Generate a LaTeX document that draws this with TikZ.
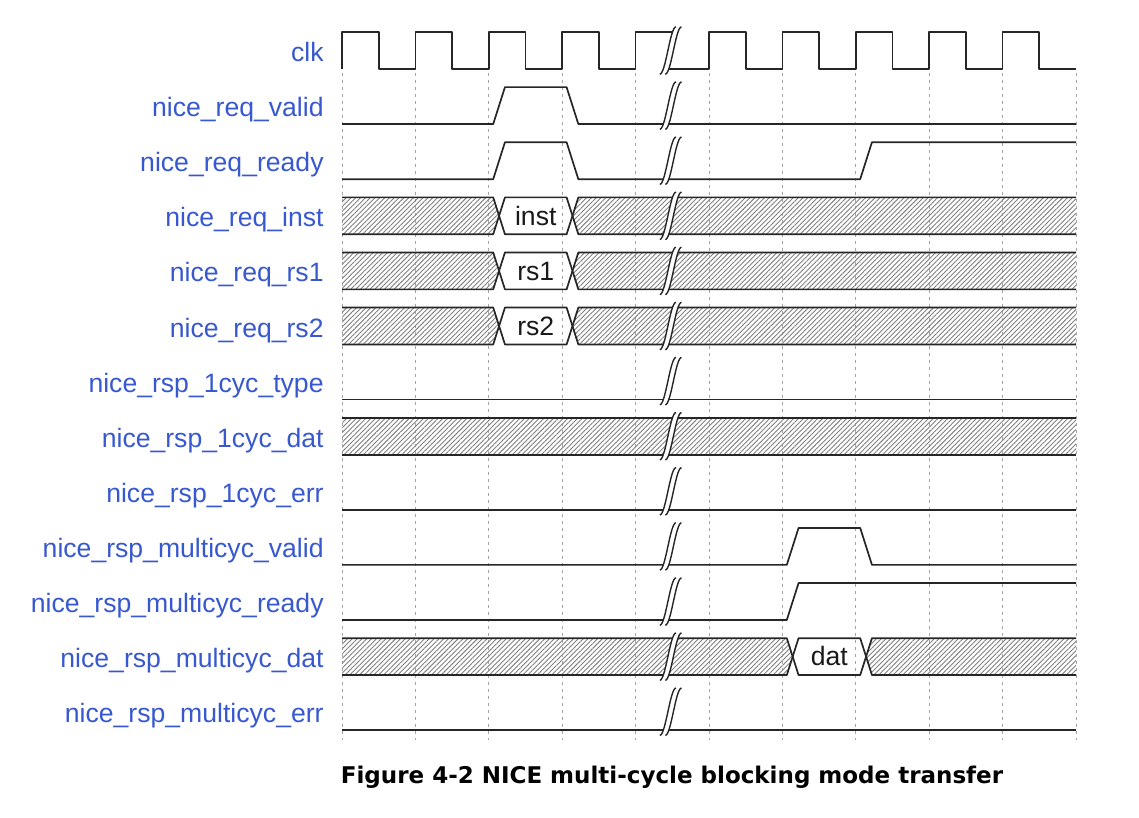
\documentclass[tikz,border=0pt]{standalone}
\usepackage{fontspec}
\setmainfont{Liberation Sans}
\newfontfamily\capfont{DejaVu Sans}
\usetikzlibrary{patterns.meta}
\definecolor{sigblue}{RGB}{56,88,208}
\newcommand{\amp}{0.335}
\begin{document}
\begin{tikzpicture}[x=36.7pt,y=-27.55pt,
    sig/.style={line width=0.85pt,black!85,line join=round},
    hatch/.style={pattern={Lines[angle=45,distance=1.7pt,line width=0.45pt]},pattern color=black!50},
    gridline/.style={black!35,line width=0.5pt,dash pattern=on 1.5pt off 2pt},
    brk/.style={line width=0.7pt,black!85},
    lbl/.style={anchor=base east,inner sep=0pt,text=sigblue,font=\fontsize{13.3}{16}\selectfont},
    bustext/.style={anchor=base,inner sep=0pt,text=black!90,font=\fontsize{13.3}{16}\selectfont}]
    \useasboundingbox (-4.6594,-0.9165) rectangle (10.8583,13.929);
    %draw grid
    \foreach \x in {0,...,10}
        {%
            \draw[gridline] (\x,0.4) -- (\x,12.52);
        }
    %draw signal names
    \foreach \i/\name in {0/clk,1/nice\_req\_valid,2/nice\_req\_ready,3/nice\_req\_inst,
        4/nice\_req\_rs1,5/nice\_req\_rs2,6/nice\_rsp\_1cyc\_type,7/nice\_rsp\_1cyc\_dat,
        8/nice\_rsp\_1cyc\_err,9/nice\_rsp\_multicyc\_valid,10/nice\_rsp\_multicyc\_ready,
        11/nice\_rsp\_multicyc\_dat,12/nice\_rsp\_multicyc\_err}
        {%
            \node[lbl] (lab\i) at (-0.245,\i+0.2) {\name};
        }
    %clock
    \draw[sig] (0,\amp) \foreach \x in {0,...,3}{ -- (\x,-\amp) -- (\x+0.5,-\amp) -- (\x+0.5,\amp) -- (\x+1,\amp)} -- (4,-\amp) -- (4.55,-\amp);
    \draw[sig] (4.4,\amp) -- (5,\amp) \foreach \x in {5,...,9}{ -- (\x,-\amp) -- (\x+0.5,-\amp) -- (\x+0.5,\amp) -- (\x+1,\amp)};
    %request valid and ready
    \draw[sig] (0,1+\amp) -- (2.06,1+\amp) -- (2.22,1-\amp) -- (3.06,1-\amp) -- (3.22,1+\amp) -- (10,1+\amp);
    \draw[sig] (0,2+\amp) -- (2.06,2+\amp) -- (2.22,2-\amp) -- (3.06,2-\amp) -- (3.22,2+\amp) -- (7.06,2+\amp) -- (7.22,2-\amp) -- (10,2-\amp);
    %buses with one value
    \foreach \r/\tx/\val in {3/2/inst,4/2/rs1,5/2/rs2,11/6/dat}
        {%
            \fill[hatch] (0,\r-\amp) -- (\tx+0.06,\r-\amp) -- (\tx+0.14,\r) -- (\tx+0.06,\r+\amp) -- (0,\r+\amp) -- cycle;
            \fill[hatch] (\tx+1.14,\r) -- (\tx+1.22,\r-\amp) -- (10,\r-\amp) -- (10,\r+\amp) -- (\tx+1.22,\r+\amp) -- cycle;
            \draw[sig] (0,\r-\amp) -- (\tx+0.06,\r-\amp) -- (\tx+0.22,\r+\amp) -- (\tx+1.06,\r+\amp) -- (\tx+1.22,\r-\amp) -- (10,\r-\amp);
            \draw[sig] (0,\r+\amp) -- (\tx+0.06,\r+\amp) -- (\tx+0.22,\r-\amp) -- (\tx+1.06,\r-\amp) -- (\tx+1.22,\r+\amp) -- (10,\r+\amp);
            \node[bustext] (val\r) at (\tx+0.64,\r+0.17) {\val};
        }
    %single cycle response
    \foreach \r in {6,8,12}
        {%
            \draw[sig] (0,\r+\amp) -- (10,\r+\amp);
        }
    \fill[hatch] (0,7-\amp) rectangle (10,7+\amp);
    \draw[sig] (0,7-\amp) -- (10,7-\amp) (0,7+\amp) -- (10,7+\amp);
    %multi cycle valid and ready
    \draw[sig] (0,9+\amp) -- (6.06,9+\amp) -- (6.22,9-\amp) -- (7.06,9-\amp) -- (7.22,9+\amp) -- (10,9+\amp);
    \draw[sig] (0,10+\amp) -- (6.06,10+\amp) -- (6.22,10-\amp) -- (10,10-\amp);
    %time break
    \foreach \r in {0,...,12}
        {%
            \fill[white] (4.33,\r+0.43) .. controls (4.41,\r+0.43) and (4.47,\r-0.43) .. (4.55,\r-0.43) -- (4.625,\r-0.43) .. controls (4.545,\r-0.43) and (4.485,\r+0.43) .. (4.405,\r+0.43) -- cycle;
            \draw[brk] (4.33,\r+0.43) .. controls (4.41,\r+0.43) and (4.47,\r-0.43) .. (4.55,\r-0.43);
            \draw[brk] (4.405,\r+0.43) .. controls (4.485,\r+0.43) and (4.545,\r-0.43) .. (4.625,\r-0.43);
        }
    %caption
    \node[anchor=base,inner sep=0pt,font=\capfont\bfseries\fontsize{11.5}{14}\selectfont] (caption) at (4.496,13.294) {Figure 4-2 NICE multi-cycle blocking mode transfer};
\end{tikzpicture}
\end{document}
